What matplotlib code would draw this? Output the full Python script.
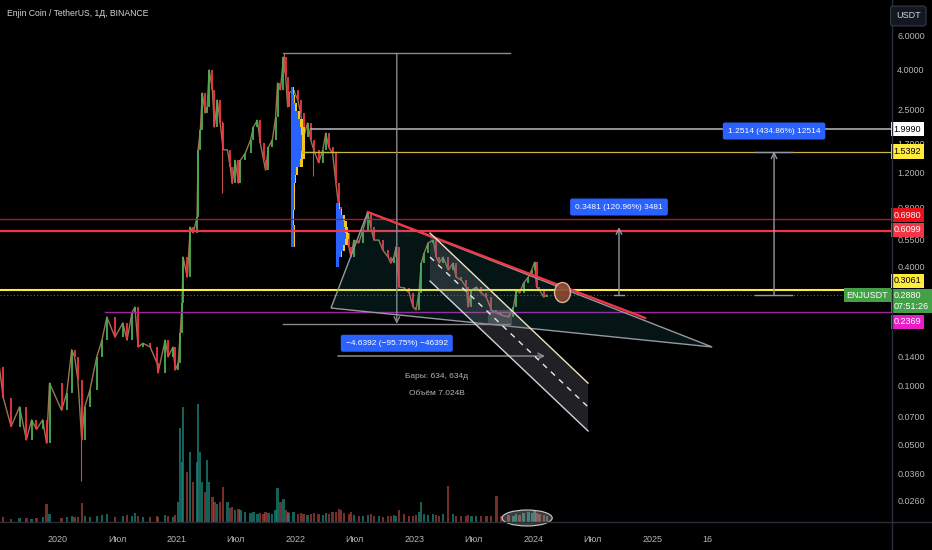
import numpy as np
import pandas as pd
import matplotlib
matplotlib.use("Agg")
import matplotlib.pyplot as plt
import matplotlib.dates as mdates
from matplotlib.patches import Polygon, Ellipse, Rectangle
from matplotlib.path import Path
from matplotlib.transforms import Affine2D
from matplotlib.ticker import NullLocator, FixedLocator, FixedFormatter

plt.rcParams['font.family'] = ['Liberation Sans', 'DejaVu Sans']

# --- price path (ENJUSDT) ---
dates = [
    '2019-07-06', '2019-07-18', '2019-08-11', '2019-09-06', '2019-09-27', '2019-10-13', '2019-10-28',
    '2019-11-16', '2019-11-28', '2019-12-07',
    '2020-01-13', '2020-01-29', '2020-02-13', '2020-02-22', '2020-03-03', '2020-03-15', '2020-03-24',
    '2020-04-09', '2020-04-30', '2020-05-16', '2020-05-31', '2020-06-25', '2020-07-19', '2020-08-01',
    '2020-08-16', '2020-08-25', '2020-09-04', '2020-09-19', '2020-10-11', '2020-11-01', '2020-11-04',
    '2020-11-26', '2020-12-05', '2020-12-20', '2020-12-27',
    '2021-01-05', '2021-01-11', '2021-01-17', '2021-01-20', '2021-02-02', '2021-02-11', '2021-02-20',
    '2021-03-04', '2021-03-07', '2021-03-14', '2021-03-20', '2021-03-29', '2021-04-04', '2021-04-10',
    '2021-04-20', '2021-04-26', '2021-05-05', '2021-05-14', '2021-05-23', '2021-06-05', '2021-06-14',
    '2021-06-20', '2021-06-29', '2021-07-09', '2021-07-15', '2021-07-30', '2021-08-15', '2021-08-24',
    '2021-09-05', '2021-09-14', '2021-09-24', '2021-09-30', '2021-10-09', '2021-10-21', '2021-10-31',
    '2021-11-06', '2021-11-15', '2021-11-24', '2021-12-01', '2021-12-07', '2021-12-10', '2021-12-25',
    '2022-01-07', '2022-01-16', '2022-01-25', '2022-02-06', '2022-02-16', '2022-02-25', '2022-03-12',
    '2022-03-25', '2022-04-03', '2022-04-12', '2022-04-24', '2022-05-04', '2022-05-13', '2022-05-19',
    '2022-05-28', '2022-06-13', '2022-06-19', '2022-06-28', '2022-07-13', '2022-07-26', '2022-08-10',
    '2022-08-19', '2022-08-29', '2022-09-13', '2022-09-25', '2022-10-11', '2022-10-20', '2022-10-29',
    '2022-11-05', '2022-11-14', '2022-11-29', '2022-12-15', '2022-12-27',
    '2023-01-05', '2023-01-14', '2023-01-21', '2023-01-30', '2023-02-11', '2023-02-27', '2023-03-08',
    '2023-03-17', '2023-03-29', '2023-04-14', '2023-04-29', '2023-05-08', '2023-05-24', '2023-06-08',
    '2023-06-14', '2023-06-24', '2023-07-09', '2023-07-24', '2023-08-09', '2023-08-24', '2023-09-09',
    '2023-09-24', '2023-10-16', '2023-10-31', '2023-11-09', '2023-11-19', '2023-12-01', '2023-12-16',
    '2023-12-26', '2024-01-04', '2024-01-10', '2024-01-19', '2024-02-01', '2024-02-10',
]
closes = [
    0.124, 0.087, 0.062, 0.078, 0.053, 0.067, 0.060, 0.067, 0.051, 0.103,
    0.075, 0.092, 0.152, 0.140, 0.107, 0.053, 0.078, 0.095, 0.140, 0.170, 0.223, 0.176, 0.208, 0.170,
    0.234, 0.250, 0.157, 0.164, 0.157, 0.130, 0.116, 0.170, 0.140, 0.157, 0.120,
    0.130, 0.185, 0.262, 0.449, 0.355, 0.637, 0.594, 0.716, 1.57, 1.98, 3.05, 2.41, 2.59, 3.99,
    3.16, 2.05, 2.81, 2.15, 1.57, 1.57, 1.28, 1.06, 1.39, 1.065, 1.39, 1.51, 1.76, 2.05,
    2.22, 1.70, 1.39, 1.24, 1.62, 1.76, 2.30, 3.42, 3.16, 4.64, 3.67, 2.59, 3.05, 3.16,
    2.81, 2.41, 1.82, 2.15, 1.76, 1.57, 1.35, 1.57, 1.91, 1.62, 1.51, 1.065, 0.805, 0.692,
    0.594, 0.505, 0.449, 0.547, 0.529, 0.615, 0.750, 0.637, 0.547, 0.547, 0.487, 0.449, 0.418, 0.449,
    0.505, 0.316, 0.313, 0.295, 0.250,
    0.242, 0.295, 0.418, 0.470, 0.529, 0.547, 0.449, 0.418, 0.449, 0.386, 0.418, 0.355, 0.343, 0.316,
    0.250, 0.305, 0.316, 0.295, 0.281, 0.242, 0.234, 0.228, 0.223, 0.250, 0.305, 0.295, 0.331, 0.355,
    0.386, 0.423, 0.316, 0.305, 0.281, 0.288,
]
volumes = [  # millions USDT
    4, 5, 3, 4, 4, 3, 4, 5, 18, 8,
    4, 5, 6, 5, 5, 19, 6, 5, 6, 7, 8, 5, 6, 7, 6, 9, 6, 5, 5, 6, 5, 7, 6, 5, 7,
    20, 94, 60, 115, 50, 70, 40, 60, 118, 70, 40, 30, 62, 40, 25, 20, 18, 20, 35, 20,
    14, 15, 12, 13, 12, 10, 9, 10, 8, 9, 8, 10, 9, 8, 12, 34, 20, 23,
    12, 10, 9, 10, 8, 9, 8, 7, 8, 9, 8, 7, 9, 8, 10, 10, 13, 12,
    9, 8, 10, 7, 6, 6, 7, 8, 6, 6, 5, 6, 6, 7, 6, 12, 8, 6, 6, 7,
    10, 20, 8, 7, 8, 7, 6, 8, 36, 8, 6, 6, 6, 7, 6, 6, 6, 6, 6, 26,
    6, 7, 6, 8, 7, 9, 10, 9, 11, 9, 8, 7, 6,
]
assert len(dates) == len(closes) == len(volumes)

wick_dates = ['2020-03-13', '2021-05-19', '2021-11-25', '2022-02-24']
wick_lows = [0.033, 0.95, 3.9, 1.15]
wick_highs = [0.078, 2.2, 4.85, 1.6]

# --- drawings ---
ath_price, ath_low = 4.845, 0.2058
tri_dates = ['2022-04-19', '2022-08-10', '2025-07-02']
tri_prices = [0.2474, 0.759, 0.157]
red_trend_dates = ['2022-08-10', '2024-12-08']
red_trend_prices = [0.759, 0.2203]
chan_dates = ['2023-02-17', '2024-06-16']
chan_top = [0.594, 0.103]
chan_mid = [0.449, 0.078]
chan_bot = [0.339, 0.0589]

prof1_edges = [3.27, 2.98, 2.71, 2.47, 2.25, 2.05, 1.87, 1.70, 1.55, 1.41, 1.28, 1.17, 1.065, 0.926, 0.777, 0.652, 0.505]
prof1_width = [8, 12, 18, 27, 36, 42, 44, 44, 42, 38, 22, 15, 11, 11, 8, 11]   # days
prof2_edges = [0.844, 0.786, 0.733, 0.684, 0.637, 0.594, 0.554, 0.517, 0.482, 0.449, 0.40]
prof2_width = [12, 20, 28, 35, 38, 40, 38, 28, 20, 11]

price_ticks = [6.0, 4.0, 2.5, 1.7, 1.2, 0.8, 0.55, 0.4, 0.14, 0.1, 0.07, 0.05, 0.036, 0.026]
time_ticks = ['2020-01-01', '2020-07-01', '2021-01-01', '2021-07-01', '2022-01-01', '2022-07-01',
              '2023-01-01', '2023-07-01', '2024-01-01', '2024-07-01', '2025-01-01', '2025-06-16']
time_labels = ['2020', 'Июл', '2021', 'Июл', '2022', 'Июл', '2023', 'Июл', '2024', 'Июл', '2025', '16']

BG = '#000000'
TXT = '#b2b5be'
GREEN = '#4caf50'
RED = '#f23645'
FS = 6.5


def dn(s):
    return mdates.date2num(pd.Timestamp(s))


fig = plt.figure(figsize=(9.32, 5.5), dpi=100, facecolor=BG)
ax2 = fig.add_axes([0, 28 / 550, 891 / 932, 522 / 550])
ax = fig.add_axes([0, 28 / 550, 891 / 932, 522 / 550], sharex=ax2)
ax.patch.set_alpha(0)
ax2.set_facecolor(BG)

x = np.array([dn(s) for s in dates])
c = np.array(closes)
o = np.r_[c[0], c[:-1]]
up = c >= o

# volume
vcol = np.where(up, '#1f8a80', '#a8433c')
ax2.bar(x, volumes, width=7, color=vcol, alpha=0.7, linewidth=0)
ax2.set_ylim(0, 522)
ax2.add_patch(Ellipse((dn('2023-12-12'), 4), 154, 16, fc=(0.85, 0.85, 0.85, 0.28),
                      ec='#cfcfcf', lw=0.8, clip_on=False))
ax2.axis('off')

# candles
ax.set_yscale('log')
ax.plot(x, c, color='#9a7650', lw=1.0, zorder=2)
ax.vlines(x[up], o[up], c[up], color=GREEN, lw=1.3, zorder=3)
ax.vlines(x[~up], o[~up], c[~up], color=RED, lw=1.3, zorder=3)
ax.vlines([dn(s) for s in wick_dates], wick_lows, wick_highs, color='#c0504a', lw=0.8, zorder=2)

# volume profiles
for edges, widths, start, blue_frac in [(prof1_edges, prof1_width, '2021-12-17', 0.75),
                                        (prof2_edges, prof2_width, '2022-05-04', 0.75)]:
    x0 = dn(start)
    for i, w in enumerate(widths):
        top, bot = edges[i], edges[i + 1]
        ax.add_patch(Rectangle((x0, bot), w, top - bot, fc='#f5c518', ec='none', zorder=4))
        ax.add_patch(Rectangle((x0, bot), w * blue_frac, top - bot, fc='#2962ff', ec='none', zorder=4))
ax.plot([dn('2022-01-20'), dn('2022-05-10')], [1.53, 1.53], color='#e0453a', lw=1, zorder=5)

# horizontal levels
right = dn('2027-01-02')
ax.plot([dn('2021-11-22'), dn('2023-10-20')], [ath_price, ath_price], color='#8a8a8a', lw=1, zorder=5)
ax.plot([dn('2021-11-22'), dn('2023-10-20')], [ath_low, ath_low], color='#8a8a8a', lw=1, zorder=5)
ax.plot([dn('2022-02-16'), right], [1.999] * 2, color='#a9abb0', lw=1.2, zorder=5)
ax.plot([dn('2022-01-20'), right], [1.5392] * 2, color='#cdb53c', lw=0.9, zorder=5)
ax.axhline(0.698, color='#b0182a', lw=1, zorder=5)
ax.axhline(0.6099, color=RED, lw=1.6, zorder=5)
ax.axhline(0.3061, color='#ffeb3b', lw=1.5, zorder=5)
ax.axhline(0.288, color='#2e7d32', lw=0.8, ls=(0, (1, 2)), zorder=5)
ax.plot([dn('2020-05-25'), right], [0.2369] * 2, color='#a3229b', lw=1, zorder=5)

# triangle pattern
tri = Polygon(list(zip([dn(s) for s in tri_dates], tri_prices)), closed=True,
              fc=(0.16, 0.64, 0.66, 0.13), ec='#9598a1', lw=1, zorder=6)
ax.add_patch(tri)
ax.plot([dn(s) for s in red_trend_dates], red_trend_prices, color=RED, lw=1.7, zorder=7)

# descending channel
cx = [dn(s) for s in chan_dates]
ax.add_patch(Polygon([(cx[0], chan_top[0]), (cx[1], chan_top[1]), (cx[1], chan_bot[1]), (cx[0], chan_bot[0])],
                     closed=True, fc=(0.47, 0.48, 0.53, 0.28), ec='none', zorder=6))
ax.plot(cx, chan_top, color='#efe4c4', lw=1, zorder=7)
ax.plot(cx, chan_bot, color='#d4d4d4', lw=1, zorder=7)
ax.plot(cx, chan_mid, color='#e8e8e8', lw=1, ls=(0, (4, 4)), zorder=7)
ax.add_patch(Rectangle((dn('2023-08-14'), 0.205), dn('2023-10-27') - dn('2023-08-14'), 0.242 - 0.205,
                       fc=(0.6, 0.6, 0.62, 0.3), ec='none', zorder=6))

# price marker circle
ell = Path.unit_circle().transformed(Affine2D().scale(0.8, 1.0))
ax.plot([dn('2024-03-28')], [0.2985], marker=ell, ms=14.4, mfc='#8d4a35', mec='#e6c3a0', mew=1,
        alpha=0.9, ls='none', zorder=8)

# ATH -> low measurement
ax.annotate('', xy=(dn('2022-11-07'), ath_low), xytext=(dn('2022-11-07'), ath_price),
            arrowprops=dict(arrowstyle='->', color='#8a8a8a', lw=1, shrinkA=0, shrinkB=0), zorder=5)
ax.annotate('', xy=(dn('2024-02-05'), 0.1413), xytext=(dn('2022-05-10'), 0.1413),
            arrowprops=dict(arrowstyle='->', color='#9598a1', lw=1, shrinkA=0, shrinkB=0), zorder=5)
lbl = dict(ha='center', va='center', color='white', fontsize=6.0, zorder=9)
bbox_blue = dict(boxstyle='round,pad=0.6,rounding_size=0.25', fc='#2962ff', ec='none')
ax.text(dn('2022-11-07'), 0.164, '\u22124.6392 (\u221295.75%) \u221246392', bbox=bbox_blue, **lbl)
ax.text(dn('2023-03-10'), 0.1106, 'Бары: 634, 634д', ha='center', va='center', color=TXT, fontsize=6.0)
ax.text(dn('2023-03-10'), 0.0907, 'Объём 7.024B', ha='center', va='center', color=TXT, fontsize=6.0)

# upside measurements
for xd, x_l, x_r, top, lab_y, lab in [
        ('2024-09-19', '2024-09-04', '2024-10-05', 0.6361, 0.805, '0.3481 (120.96%) 3481'),
        ('2026-01-08', '2025-11-11', '2026-03-05', 1.5392, 1.955, '1.2514 (434.86%) 12514')]:
    ax.annotate('', xy=(dn(xd), top), xytext=(dn(xd), 0.288),
                arrowprops=dict(arrowstyle='->', color='#9598a1', lw=1, shrinkA=0, shrinkB=0), zorder=8)
    ax.plot([dn(x_l), dn(x_r)], [0.288, 0.288], color='#9598a1', lw=1, zorder=8)
    ax.text(dn(xd), lab_y, lab, bbox=bbox_blue, **lbl)
ax.plot([dn('2025-11-11'), dn('2026-03-05')], [1.5392, 1.5392], color='#9598a1', lw=1, zorder=8)

# axes
ax.set_xlim(dn('2019-07-08'), right)
ax.set_ylim(0.02034, 9.03)
ax.yaxis.tick_right()
ax.yaxis.set_major_locator(FixedLocator(price_ticks))
ax.yaxis.set_major_formatter(FixedFormatter(['%.4f' % t for t in price_ticks]))
ax.yaxis.set_minor_locator(NullLocator())
ax.tick_params(axis='y', length=0, pad=4.5, labelsize=FS, labelcolor=TXT)
ax.set_xticks([dn(s) for s in time_ticks])
ax.set_xticklabels(time_labels)
ax.xaxis.set_minor_locator(NullLocator())
ax.tick_params(axis='x', length=0, pad=9, labelsize=FS, labelcolor=TXT)
for a in (ax, ax2):
    for sp in a.spines.values():
        sp.set_visible(False)

# separators
fig.add_artist(plt.Line2D([891.5 / 932] * 2, [0, 1], color='#2a2e39', lw=1))
fig.add_artist(plt.Line2D([0, 1], [28 / 550] * 2, color='#2a2e39', lw=1))


# price scale labels
def tag(text, price, fc, tc, dy_px=0, ls=1.2):
    ax.annotate(text, xy=(1, price), xycoords=('axes fraction', 'data'), xytext=(2.0, -dy_px * 0.72),
                textcoords='offset points', ha='left', va='center', fontsize=FS, color=tc, linespacing=ls,
                annotation_clip=False, zorder=10,
                bbox=dict(boxstyle='square,pad=0.3', fc=fc, ec='none'))


tag('1.9990', 1.999, '#ffffff', '#000000')
tag('1.5392', 1.5392, '#ffeb3b', '#000000')
tag('0.6980', 0.698, '#e8101a', '#ffffff', dy_px=-4)
tag('0.6099', 0.6099, '#f23645', '#ffffff', dy_px=-1)
tag('0.3061', 0.3061, '#ffeb3b', '#000000', dy_px=-9)
tag('0.2880\n07:51:26', 0.288, '#43a047', '#ffffff', dy_px=6)
tag('0.2369', 0.2369, '#e91ec8', '#ffffff', dy_px=10)
ax.annotate('ENJUSDT', xy=(1, 0.288), xycoords=('axes fraction', 'data'), xytext=(-2, 0),
            textcoords='offset points', ha='right', va='center', fontsize=FS, color='white',
            annotation_clip=False, zorder=10, bbox=dict(boxstyle='square,pad=0.3', fc='#43a047', ec='none'))

fig.text(896 / 932, 1 - 16 / 550, 'USDT', ha='left', va='center', fontsize=FS, color='#d1d4dc',
         bbox=dict(boxstyle='round,pad=0.6,rounding_size=0.3', fc='#131722', ec='#363a45', lw=0.8))
fig.text(7 / 932, 1 - 14 / 550, 'Enjin Coin / TetherUS, 1Д, BINANCE', ha='left', va='center',
         fontsize=6.2, color='#d1d4dc')

fig.savefig('out.png', dpi=100, facecolor=BG)
